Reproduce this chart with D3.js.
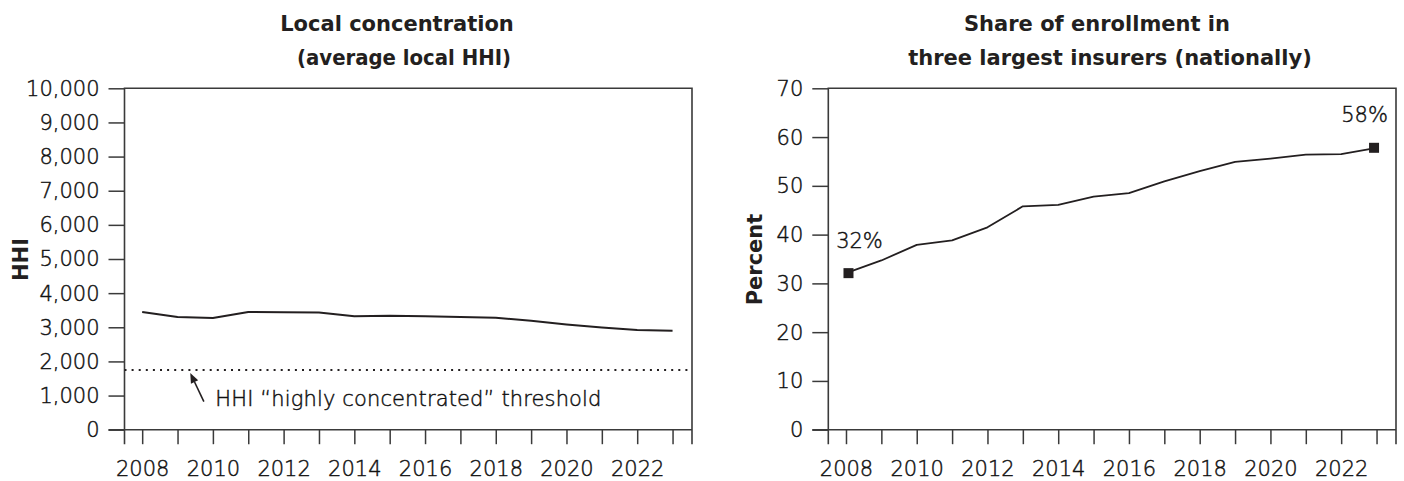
<!DOCTYPE html>
<html>
<head>
<meta charset="utf-8">
<script src="https://cdn.jsdelivr.net/npm/d3@7"></script>
<style>
  html, body { margin: 0; padding: 0; background: #fff; }
  svg text { font-family: "DejaVu Sans", sans-serif; fill: #231f20; }
</style>
</head>
<body>
<svg id="chart" width="1404" height="481"></svg>
<script>
// ---- data ----
const years = [2008,2009,2010,2011,2012,2013,2014,2015,2016,2017,2018,2019,2020,2021,2022,2023];
const hhi = [3450,3300,3270,3450,3440,3430,3320,3340,3320,3300,3280,3190,3080,2990,2920,2900];
const hhiThreshold = 1750;
const hhiTicks = [0,1000,2000,3000,4000,5000,6000,7000,8000,9000,10000];
const share = [32.1,34.7,37.9,38.8,41.5,45.8,46.1,47.8,48.5,50.9,53.0,54.9,55.6,56.4,56.5,57.8];
const shareTicks = [0,10,20,30,40,50,60,70];
const yearLabels = [2008,2010,2012,2014,2016,2018,2020,2022];
const leftTitle = ["Local concentration", "(average local HHI)"];
const rightTitle = ["Share of enrollment in", "three largest insurers (nationally)"];
const leftYTitle = "HHI";
const rightYTitle = "Percent";
const thresholdLabel = "HHI \u201chighly concentrated\u201d threshold";
const endLabels = ["32%", "58%"];

const svg = d3.select("#chart");
const INK = "#231f20";
const AX = "#3a3a3a";
const FS = 21;
const LIGHT = 300;

function panel(opts) {
  const g = svg.append("g");
  const x = d3.scaleLinear().domain([2007.5, 2023.55]).range([opts.x0, opts.x1]);
  const y = d3.scaleLinear().domain(opts.yDomain).range([429.7, 88.3]);

  // y axis
  const ya = g.append("g").attr("transform", `translate(${opts.x0},0)`)
    .call(d3.axisLeft(y).tickValues(opts.yTicks).tickSize(16).tickPadding(9)
      .tickFormat(opts.yFormat));
  ya.select(".domain").remove();
  ya.selectAll(".tick line").attr("stroke", AX).attr("stroke-width", 1.5);
  ya.selectAll(".tick text").style("font-size", FS + "px").style("font-weight", LIGHT)
    .style("fill", "#111").style("stroke", "#111").style("stroke-width", 0.45)
    .attr("dy", "0.33em");

  // x axis
  const xa = g.append("g").attr("transform", `translate(0,${y(0)})`)
    .call(d3.axisBottom(x).tickValues(years).tickSize(14.5).tickPadding(16.5)
      .tickFormat(d => yearLabels.includes(d) ? String(d) : ""));
  xa.select(".domain").remove();
  xa.selectAll(".tick line").attr("stroke", AX).attr("stroke-width", 1.5);
  xa.selectAll(".tick text").style("font-size", FS + "px").style("font-weight", LIGHT)
    .style("fill", "#111").style("stroke", "#111").style("stroke-width", 0.45);

  // frame
  const fx0 = opts.x0, fx1 = opts.x1, fy0 = y(opts.yDomain[1]), fy1 = y(0);
  g.append("path")
    .attr("d", `M${fx0},${fy1 + 14.5}V${fy0}H${fx1}V${fy1 + 14.5}`)
    .attr("fill", "none").attr("stroke", AX).attr("stroke-width", 1.6);
  g.append("line").attr("x1", fx0 - 16).attr("x2", fx1).attr("y1", fy1).attr("y2", fy1)
    .attr("stroke", AX).attr("stroke-width", 1.6);

  // titles
  opts.title.forEach((t, i) => {
    const tt = g.append("text").attr("x", opts.titleX[i]).attr("y", 30.5 + i * 34)
      .attr("text-anchor", "middle").style("font-size", FS + "px").style("font-weight", 700)
      .text(t);
    if (opts.titleLen && opts.titleLen[i]) tt.attr("textLength", opts.titleLen[i]).attr("lengthAdjust", "spacingAndGlyphs");
  });
  g.append("text")
    .attr("transform", `translate(${opts.yTitleX},${(fy0 + fy1) / 2 + 0.5}) rotate(-90)`)
    .attr("text-anchor", "middle").attr("dy", "0.36em")
    .style("font-size", FS + "px").style("font-weight", 700).text(opts.yTitle);

  // line
  const line = d3.line().x((d, i) => x(years[i])).y(d => y(d));
  g.append("path").datum(opts.values).attr("d", line)
    .attr("fill", "none").attr("stroke", INK).attr("stroke-width", opts.lw)
    .attr("stroke-linejoin", "round");
  return { g, x, y };
}

// left panel
const L = panel({
  x0: 124.5, x1: 692, yDomain: [0, 10000], yTicks: hhiTicks,
  yFormat: d3.format(","), title: leftTitle, titleX: [397, 404], titleLen: [null, 214],
  yTitle: leftYTitle, yTitleX: 20, values: hhi, lw: 2
});
// threshold dotted line
L.g.append("line")
  .attr("x1", L.x.range()[0]).attr("x2", L.x.range()[1])
  .attr("y1", L.y(hhiThreshold)).attr("y2", L.y(hhiThreshold))
  .attr("stroke", INK).attr("stroke-width", 2).attr("stroke-dasharray", "2,5.1");
// arrow
{
  const tipX = L.x(2009.36), tipY = L.y(hhiThreshold) + 3;
  const tailX = tipX + 13.6, tailY = tipY + 28.7;
  const ang = Math.atan2(tipY - tailY, tipX - tailX);
  const hl = 10, hw = 4;
  const bx = tipX - hl * Math.cos(ang), by = tipY - hl * Math.sin(ang);
  L.g.append("line").attr("x1", tailX).attr("y1", tailY).attr("x2", bx).attr("y2", by)
    .attr("stroke", INK).attr("stroke-width", 1.6);
  const px = -Math.sin(ang) * hw, py = Math.cos(ang) * hw;
  L.g.append("path")
    .attr("d", `M${tipX},${tipY}L${bx + px},${by + py}L${bx - px},${by - py}Z`)
    .attr("fill", INK);
  L.g.append("text").attr("x", tailX + 11.5).attr("y", tailY + 4.7)
    .style("font-size", FS + "px").style("font-weight", LIGHT)
    .style("fill", "#111").style("stroke", "#111").style("stroke-width", 0.45)
    .attr("textLength", 386).attr("lengthAdjust", "spacing")
    .text(thresholdLabel);
}

// right panel
const R = panel({
  x0: 828.3, x1: 1396, yDomain: [0, 70], yTicks: shareTicks,
  yFormat: d3.format("d"), title: rightTitle, titleX: [1097, 1110],
  yTitle: rightYTitle, yTitleX: 754, values: share, lw: 1.8
});
// end markers + labels
[0, years.length - 1].forEach((idx, k) => {
  const cx = R.x(years[idx]) + (k === 0 ? 2.5 : -2.5), cy = R.y(share[idx]);
  R.g.append("rect").attr("x", cx - 5).attr("y", cy - 5).attr("width", 10).attr("height", 10)
    .attr("fill", INK);
  R.g.append("text").attr("x", k === 0 ? cx + 11 : cx - 9.5).attr("y", cy - (k === 0 ? 24.7 : 26))
    .attr("text-anchor", "middle").style("font-size", FS + "px").style("font-weight", LIGHT)
    .style("fill", "#111").style("stroke", "#111").style("stroke-width", 0.45)
    .text(endLabels[k]);
});
</script>
</body>
</html>
